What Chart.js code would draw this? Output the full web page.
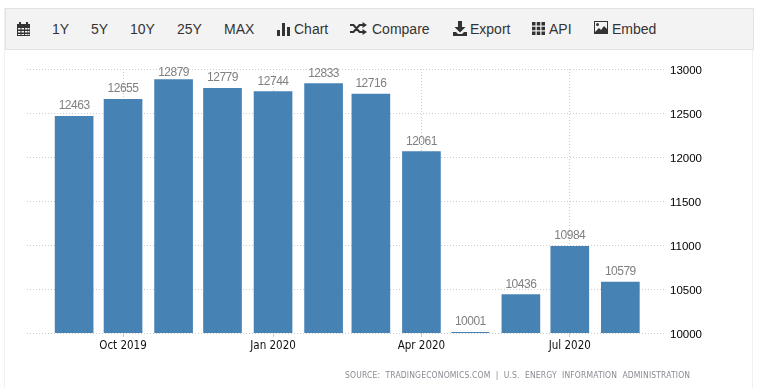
<!DOCTYPE html>
<html><head><meta charset="utf-8">
<script src="https://cdn.jsdelivr.net/npm/chart.js@4"></script>
<style>
html,body{margin:0;padding:0;background:#fff;width:757px;height:390px;overflow:hidden}
#frame{position:absolute;left:4px;top:8px;width:747px;height:380px;border-left:1px solid #f0f0f0;border-right:1px solid #f0f0f0}
#bar{position:absolute;left:5px;top:8px;width:747px;height:40px;background:#f3f3f3;border:1px solid #e2e2e2;border-width:1px;font:14px "Liberation Sans",Arial,sans-serif;color:#333}
#bar span,#bar svg{position:absolute}
#bar span{top:12px;line-height:17px;white-space:nowrap}
#c{position:absolute;left:0;top:0}
#src{position:absolute;left:345px;top:370px;font:8.5px "DejaVu Sans Condensed",sans-serif;color:#8a8a94;letter-spacing:.15px;word-spacing:2.7px;white-space:nowrap}
</style></head><body>
<div id="frame"></div>
<canvas id="c" width="757" height="390"></canvas>
<div id="bar">
<svg style="left:10px;top:12px" width="15" height="16" viewBox="0 0 15 16"><path fill="#333" d="M1 3h2V1h2v2h5V1h2v2h2v12H1zM2 7v1.500h2.500V7zm3.500 0v1.500h2.500V7zM9 7v1.500h2.500V7zm3 0v1.500h1.500V7zM2 10v1.500h2.500V10zm3.500 0v1.500h2.500V10zM9 10v1.500h2.500V10zm3 0v1.500h1.500V10zM2 13v1h2.500v-1zm3.500 0v1h2.500v-1zM9 13v1h2.500v-1zm3 0v1h1.500v-1z"/></svg>
<span style="left:46px">1Y</span><span style="left:85px">5Y</span><span style="left:124px">10Y</span><span style="left:171px">25Y</span><span style="left:218px">MAX</span>
<svg style="left:271px;top:13px" width="13" height="14" viewBox="0 0 13 14"><path fill="#333" d="M0 8h3v6H0zM5 1h3v13H5zM10 5h3v9h-3z"/></svg>
<span style="left:288px">Chart</span>
<svg style="left:344px;top:13px" width="17" height="13" viewBox="0 0 17 13"><path fill="none" stroke="#333" stroke-width="2" d="M0 3h3.500l6 7H13M0 10h3.500l6-7H13"/><path fill="#333" d="M12.500 0l4.500 3-4.500 3zM12.500 7l4.500 3-4.500 3z"/></svg>
<span style="left:366px">Compare</span>
<svg style="left:447px;top:12px" width="14" height="15" viewBox="0 0 14 15"><path fill="#333" d="M5 0h4v6h3.500L7 11.500 1.500 6H5zM0 11h3l2 2h4l2-2h3v4H0z"/></svg>
<span style="left:464px">Export</span>
<svg style="left:526px;top:13px" width="13" height="13" viewBox="0 0 13 13"><path fill="#333" d="M0 0h3.500v3.500H0zM4.750 0h3.500v3.500h-3.500zM9.500 0H13v3.500H9.500zM0 4.750h3.500v3.500H0zM4.750 4.750h3.500v3.500h-3.500zM9.500 4.750H13v3.500H9.500zM0 9.500h3.500V13H0zM4.750 9.500h3.500V13h-3.500zM9.500 9.500H13V13H9.500z"/></svg>
<span style="left:543px">API</span>
<svg style="left:588px;top:12px" width="14" height="13" viewBox="0 0 14 13"><path fill="#333" fill-rule="evenodd" d="M0 0h14v13H0zM1 1v11h12V1z"/><circle fill="#333" cx="3.500" cy="3.500" r="1.500"/><path fill="#333" d="M1 11l4-4 2 2 3-4 3 3v4H1z"/></svg>
<span style="left:606px">Embed</span>
</div>
<div id="src">SOURCE: TRADINGECONOMICS.COM | U.S. ENERGY INFORMATION ADMINISTRATION</div>
<script>
const categories=["2019-09-01","2019-10-01","2019-11-01","2019-12-01","2020-01-01","2020-02-01","2020-03-01","2020-04-01","2020-05-01","2020-06-01","2020-07-01","2020-08-01"];
const values=[12463,12655,12879,12779,12744,12833,12716,12061,10001,10436,10984,10579];
const xTickDates=["2019-10-01","2020-01-01","2020-04-01","2020-07-01"];
const xTickLabels=["Oct 2019","Jan 2020","Apr 2020","Jul 2020"];
const yTicks=[10000,10500,11000,11500,12000,12500,13000];
const DAY=864e5, ts=s=>Date.parse(s+"T00:00:00Z");
const xMin=ts("2019-10-01")-58.9*DAY, xMax=ts("2019-10-01")+333*DAY;
const sans='"Liberation Sans",Arial,sans-serif';
const barColor="#4682b4";
const valueLabels={id:"valueLabels",afterDatasetsDraw(ch){
  const g=ch.ctx;g.save();g.font='12px '+sans;g.letterSpacing="-0.5px";g.textAlign="center";g.textBaseline="alphabetic";
  const minY=ch.chartArea.top+6.5, baseY=ch.scales.y.getPixelForValue(ch.scales.y.min);
  ch.getDatasetMeta(0).data.forEach((b,i)=>{
    if(baseY-b.y<1){g.fillStyle=barColor;g.fillRect(b.x-b.width/2+.5,baseY-1,b.width-1,1);}
    g.fillStyle="#808080";
    g.fillText(String(values[i]),b.x,Math.max(Math.min(b.y,baseY-1)-7,minY));});
  g.restore();}};
new Chart(document.getElementById("c"),{type:"bar",
 data:{datasets:[{data:categories.map((d,i)=>({x:ts(d),y:values[i]})),backgroundColor:barColor,barThickness:38,borderWidth:0}]},
 options:{responsive:false,animation:false,events:[],
  layout:{padding:{left:27,top:69,right:0,bottom:0}},
  plugins:{legend:{display:false},tooltip:{enabled:false}},
  scales:{
   x:{type:"linear",offset:false,min:xMin,max:xMax,
      afterBuildTicks(a){a.ticks=xTickDates.map(d=>({value:ts(d)}));},
      afterFit(a){a.height=57;},
      grid:{offset:false,color:"#cccccc",drawTicks:true,tickLength:4,tickColor:"#cccccc"},
      border:{display:false,dash:[1,2]},
      ticks:{autoSkip:false,maxRotation:0,padding:2,color:"#111",font:{family:'"DejaVu Sans Condensed","DejaVu Sans",sans-serif',size:11.5},
        callback(v){return xTickLabels[xTickDates.findIndex(d=>ts(d)===v)];}}},
   y:{position:"right",min:10000,max:13000,
      afterBuildTicks(a){a.ticks=yTicks.map(v=>({value:v}));},
      afterFit(a){a.width=91;},
      grid:{color:"#cccccc",drawTicks:false},
      border:{display:false,dash:[1,2]},
      ticks:{autoSkip:false,padding:4,color:"#000",font:{family:sans,size:11.5,lineHeight:0.26},callback:v=>["",String(v)]}}
  }},
 plugins:[valueLabels]});
</script></body></html>
